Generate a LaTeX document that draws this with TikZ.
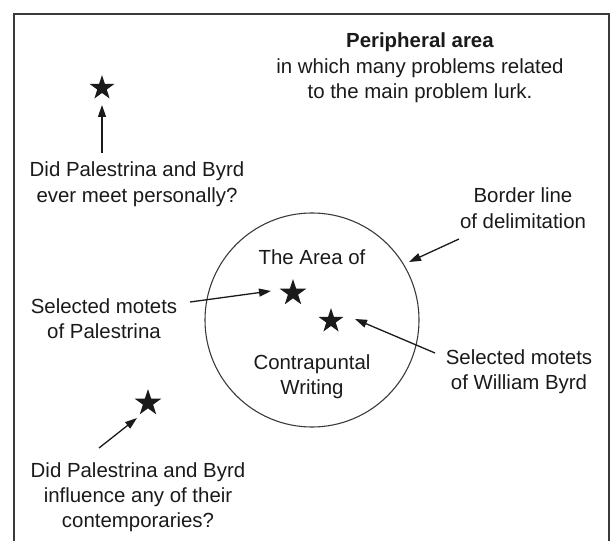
\documentclass[tikz,border=0pt]{standalone}
\usepackage{fontspec}
\setmainfont{Liberation Sans}
\usetikzlibrary{shapes.geometric,arrows.meta}
\definecolor{ink}{HTML}{1A1A1A}
\definecolor{txt}{HTML}{1A1A1A}
\definecolor{rim}{HTML}{3A3A3A}
\begin{document}
\begin{tikzpicture}[x=1bp,y=-1bp,
  lbl/.style={align=center,inner sep=0pt,anchor=north,font=\fontsize{20.5}{25.3}\selectfont,text=txt},
  starnode/.style={star,star points=5,star point ratio=2.618,fill=ink,draw=none,minimum size=#1,inner sep=0pt},
  pointer/.style={draw=ink,line width=1.3bp,-{Triangle[length=12bp,width=8bp]}},
]
\useasboundingbox (0,0) rectangle (612,541);
% frame, open at the bottom
\coordinate (fbl) at (14,541);
\coordinate (ftl) at (14,14);
\coordinate (ftr) at (609,14);
\coordinate (fbr) at (609,541);
\draw[rim,line width=1.6bp] (fbl) -- (ftl) -- (ftr) -- (fbr);
% circle
\node[draw=rim,line width=1.1bp,circle,minimum size=214bp,inner sep=0pt] (area) at (312,320) {};
% texts
\node[lbl] (title) at (420,32.8) {\textbf{Peripheral area}\\in which many problems related\\to the main problem lurk.};
\node[lbl] (q1) at (137,162) {Did Palestrina and Byrd\\ever meet personally?};
\node[lbl] (q2) at (138,462) {Did Palestrina and Byrd\\influence any of their\\contemporaries?};
\node[lbl] (pal) at (104,298) {Selected motets\\of Palestrina};
\node[lbl] (byrd) at (519,349) {Selected motets\\of William Byrd};
\node[lbl] (border) at (523,188) {Border line\\of delimitation};
\node[lbl] (areaof) at (312,250) {The Area of};
\node[lbl] (contra) at (312,354) {Contrapuntal\\Writing};
% stars
\node[starnode=26bp] (s1) at (102,88) {};
\node[starnode=28bp] (s2) at (293,293) {};
\node[starnode=26bp] (s3) at (331,321) {};
\node[starnode=28bp] (s4) at (148,403) {};
% arrow ends
\coordinate (a1s) at (102,153);
\coordinate (a1e) at (102,105);
\coordinate (a2s) at (190,302);
\coordinate (a2e) at (271,291);
\coordinate (a3s) at (435,353);
\coordinate (a3e) at (355,319);
\coordinate (a4s) at (459,239);
\coordinate (a4e) at (409,262);
\coordinate (a5s) at (99,448);
\coordinate (a5e) at (137,418);
\draw[pointer] (a1s) -- (a1e);
\draw[pointer] (a2s) -- (a2e);
\draw[pointer] (a3s) -- (a3e);
\draw[pointer] (a4s) -- (a4e);
\draw[pointer] (a5s) -- (a5e);
\end{tikzpicture}
\end{document}
